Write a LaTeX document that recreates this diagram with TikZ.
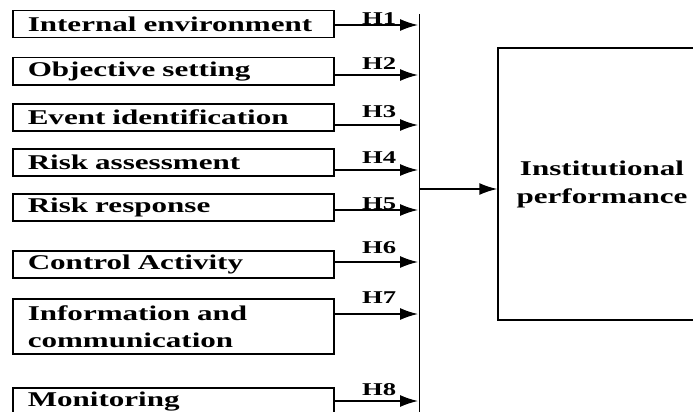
\documentclass[tikz,border=0pt]{standalone}
\usepackage{fontspec}
\newfontfamily\figfont{Liberation Serif}[FakeStretch=1.48]
\usetikzlibrary{arrows.meta}
\begin{document}
\begin{tikzpicture}[x=1pt,y=-1pt,
    factor/.style={draw,line width=1.5pt,anchor=north west,minimum height=27pt,text width=291pt,inner xsep=15pt,inner ysep=0pt,align=left,font=\figfont\bfseries\fontsize{21}{27}\selectfont},
    hyp/.style={anchor=base west,inner sep=0pt,font=\figfont\bfseries\fontsize{18}{20}\selectfont},
    link/.style={line width=1.5pt,-{Latex[length=18pt,width=12pt]}}]
    \useasboundingbox (0,0) rectangle (693,412);
    \clip (0,0) rectangle (693,412);
    % the eight factors
    \node[factor] (b1) at (12,10) {Internal environment};
    \node[factor] (b2) at (12,57) {Objective setting};
    \node[factor] (b3) at (12,103) {Event identification};
    \node[factor] (b4) at (12,148) {Risk assessment};
    \node[factor] (b5) at (12,193) {Risk response};
    \node[factor] (b6) at (12,250) {Control Activity};
    \node[factor,minimum height=55pt] (b7) at (12,298) {Information and\\communication};
    \node[factor] (b8) at (12,387) {Monitoring};
    % outcome
    \node[draw,line width=1.5pt,minimum width=208pt,minimum height=272pt,align=center,font=\figfont\bfseries\fontsize{21}{28}\selectfont] (perf) at (602,184) {Institutional\\performance};
    % collecting line
    \coordinate (bustop) at (419.5,14);
    \coordinate (busbot) at (419.5,412);
    \coordinate (busmid) at (419.5,189);
    \draw[line width=1.5pt] (bustop) -- (busbot);
    \draw[link] (busmid) -- (perf.west |- busmid);
    % hypotheses
    \coordinate (t1) at (418,25);
    \coordinate (t2) at (418,75);
    \coordinate (t3) at (418,125);
    \coordinate (t4) at (418,170);
    \coordinate (t5) at (418,210);
    \coordinate (t6) at (418,262);
    \coordinate (t7) at (418,314);
    \coordinate (t8) at (418,401);
    \foreach \i in {1,...,8}
        \draw[link] (b\i.east |- t\i) -- (t\i);
    \node[hyp] (h1) at (362,25) {H1};
    \node[hyp] (h2) at (362,70) {H2};
    \node[hyp] (h3) at (362,117) {H3};
    \node[hyp] (h4) at (362,163) {H4};
    \node[hyp] (h5) at (362,209) {H5};
    \node[hyp] (h6) at (362,253) {H6};
    \node[hyp] (h7) at (362,303) {H7};
    \node[hyp] (h8) at (362,395) {H8};
\end{tikzpicture}
\end{document}
